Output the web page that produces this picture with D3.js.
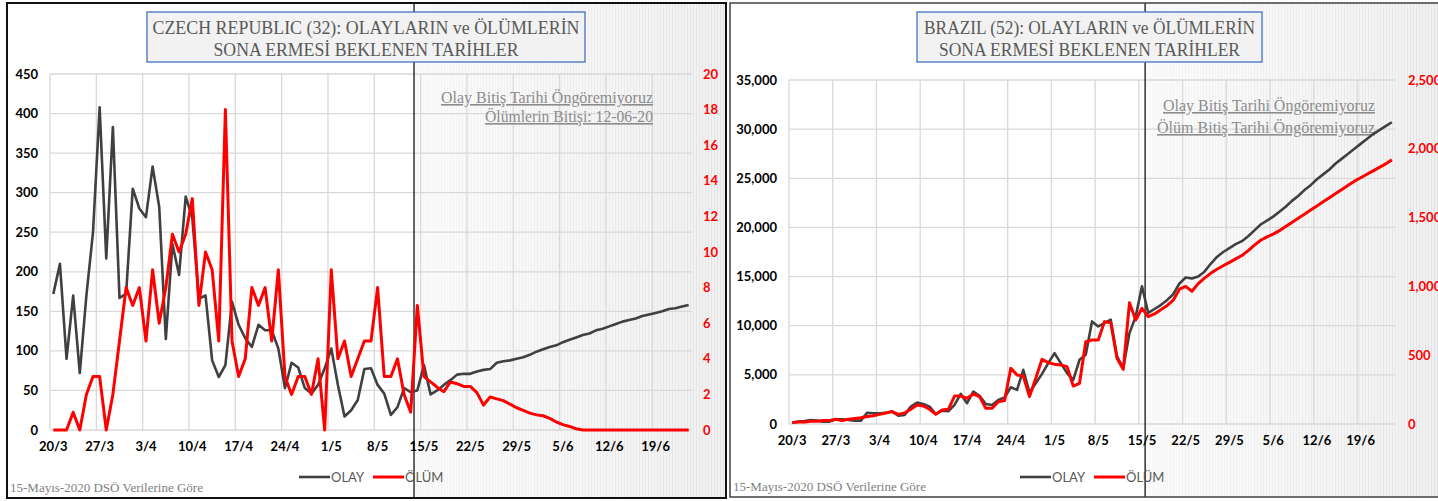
<!DOCTYPE html>
<html>
<head>
<meta charset="utf-8">
<script src="https://cdn.jsdelivr.net/npm/d3@7"></script>
<style>
  body { margin: 0; background: #fff; }
  svg { display: block; }
</style>
</head>
<body>
<svg id="chart" width="1438" height="501"></svg>
<script>
// categories: one per day, 20/3 .. 24/6
const days = d3.timeDay.range(new Date(2020, 2, 20), new Date(2020, 5, 25));
const tickLabels = ["20/3","27/3","3/4","10/4","17/4","24/4","1/5","8/5","15/5","22/5","29/5","5/6","12/6","19/6"];

// Czech Republic
const czOlay = [172,210,90,170,72,170,250,408,217,383,167,172,305,280,269,333,282,115,235,196,
  295,268,166,170,88,67,82,162,133,116,105,133,126,126,103,53,85,79,53,46,
  57,78,103,57,17,25,38,77,78,57,46,19,29,53,48,50,82,45,50,57,
  63,70,71,71,74,76,77,85,87,88,90,92,95,99,102,105,107,111,114,117,
  120,122,126,128,131,134,137,139,141,144,146,148,150,153,154,156,158];
const czOlum = [0,0,0,1,0,2,3,3,0,2,5,8,7,8,5,9,6,8,11,10,
  11,13,7,10,9,5,18,5,3,4,8,7,8,5,9,3,2,3,3,2,
  4,0,9,4,5,3,4,5,5,8,3,3,4,2,1,7,3.0,2.7,2.4,2.15,
  2.7,2.6,2.45,2.45,2.1,1.4,1.85,1.75,1.65,1.45,1.25,1.1,0.95,0.85,0.8,0.65,0.45,0.3,0.2,0.07,
  0,0,0,0,0,0,0,0,0,0,0,0,0,0,0,0,0];
const czLeftTicks = [0,50,100,150,200,250,300,350,400,450];
const czRightTicks = [0,2,4,6,8,10,12,14,16,18,20];

// Brazil
const brOlay = [150,240,300,400,340,240,240,480,480,400,340,340,1150,1090,1090,1150,1260,850,920,1770,
  2180,2040,1770,1020,1360,1290,1940,3060,2110,3300,2860,2040,1940,2450,2690,3740,3470,5510,3200,4150,
  5100,6190,7210,6190,5170,4490,6530,7040,10440,9930,10270,10610,6870,5680,9250,10950,14010,11300,11700,12100,
  12600,13200,14300,14900,14800,15000,15500,16300,17000,17500,17900,18300,18600,19100,19700,20300,20700,21100,21600,22100,
  22700,23200,23800,24300,24900,25400,25900,26500,27000,27500,28000,28500,29000,29500,29900,30300,30700];
const brOlum = [10,15,15,20,20,25,25,35,25,35,40,45,55,60,70,80,90,70,80,107,
  138,131,107,70,102,107,203,203,187,218,199,114,114,162,170,405,356,349,199,332,
  470,446,434,429,417,276,296,598,610,610,744,736,477,397,882,756,841,780,800,830,
  860,900,980,1000,965,1020,1060,1095,1125,1150,1175,1200,1225,1260,1300,1335,1360,1380,1405,1435,
  1465,1495,1525,1555,1585,1615,1645,1675,1705,1735,1765,1790,1815,1840,1865,1890,1920];
const brLeftTicks = [0,5000,10000,15000,20000,25000,30000,35000];
const brRightTicks = [0,500,1000,1500,2000,2500];

const footer = "15-Mayıs-2020 DSÖ Verilerine Göre";
const legendNames = ["OLAY", "ÖLÜM"];

const svg = d3.select("#chart");
const defs = svg.append("defs");

// striped grey texture for the forecast zone
const pat = defs.append("pattern").attr("id", "stripes")
  .attr("patternUnits", "userSpaceOnUse").attr("width", 3).attr("height", 10);
pat.append("rect").attr("width", 3).attr("height", 10).attr("fill", "#f1f1f1");
pat.append("rect").attr("width", 1).attr("height", 10).attr("fill", "#e3e3e3");
const fade = defs.append("linearGradient").attr("id", "fade");
fade.append("stop").attr("offset", "0%").attr("stop-color", "#fff").attr("stop-opacity", 0.7);
fade.append("stop").attr("offset", "85%").attr("stop-color", "#fff").attr("stop-opacity", 0.15);
fade.append("stop").attr("offset", "100%").attr("stop-color", "#fff").attr("stop-opacity", 0);

function drawPanel(cfg) {
  const g = svg.append("g");
  const f = cfg.frame, p = cfg.plot;

  const x = d3.scaleBand().domain(days).range([p.l, p.r]).padding(0);
  const cx = d => x(d) + x.bandwidth() / 2;
  const yL = d3.scaleLinear().domain([0, d3.max(cfg.leftTicks)]).range([p.b, p.t]);
  const yR = d3.scaleLinear().domain([0, d3.max(cfg.rightTicks)]).range([p.b, p.t]);

  g.append("rect").attr("x", f.x).attr("y", f.y).attr("width", f.w).attr("height", f.h).attr("fill", "#fff");

  // forecast zone
  const sx = x(days[cfg.split]);
  g.append("rect").attr("x", sx).attr("y", f.y).attr("width", f.x + f.w - sx).attr("height", f.h)
    .attr("fill", "url(#stripes)");
  g.append("rect").attr("x", sx).attr("y", f.y).attr("width", f.x + f.w - sx).attr("height", f.h)
    .attr("fill", "url(#fade)");

  // gridlines
  g.append("g").selectAll("line").data(cfg.leftTicks).join("line")
    .attr("x1", p.l).attr("x2", p.r).attr("y1", d => yL(d)).attr("y2", d => yL(d))
    .attr("stroke", "#d9d9d9").attr("stroke-width", 1.3);
  const weekly = days.filter((d, i) => i % 7 === 0);
  g.append("g").selectAll("line").data(weekly).join("line")
    .attr("x1", d => x(d)).attr("x2", d => x(d)).attr("y1", p.t).attr("y2", p.b)
    .attr("stroke", "#d9d9d9").attr("stroke-width", 1.3);

  // split line
  g.append("line").attr("x1", sx).attr("x2", sx).attr("y1", f.y).attr("y2", f.y + f.h)
    .attr("stroke", "#000").attr("stroke-width", 1.2);

  // title box
  const tb = cfg.titleBox;
  g.append("rect").attr("x", tb.x).attr("y", tb.y).attr("width", tb.w).attr("height", tb.h)
    .attr("fill", "#f2f2f2").attr("stroke", "#4472c4").attr("stroke-width", 1.3);
  cfg.title.forEach((t, i) => {
    g.append("text").attr("x", tb.x + tb.w / 2).attr("y", tb.y + 22 + i * 22)
      .attr("text-anchor", "middle").attr("font-family", "'Liberation Serif', 'DejaVu Serif', serif")
      .attr("font-size", 18).attr("fill", "#595959")
      .attr("textLength", cfg.titleLen[i]).attr("lengthAdjust", "spacingAndGlyphs")
      .text(t);
  });

  // notes in the forecast zone
  cfg.notes.forEach((t, i) => {
    g.append("text").attr("x", cfg.noteX).attr("y", cfg.noteY + i * cfg.noteGap)
      .attr("text-anchor", "end").attr("font-family", "'Liberation Serif', serif")
      .attr("font-size", 16).attr("fill", "#8c8c8c").attr("text-decoration", "underline")
      .attr("textLength", cfg.noteLen[i]).attr("lengthAdjust", "spacingAndGlyphs")
      .text(t);
  });

  // series
  const lineL = d3.line().x((v, i) => cx(days[i])).y(v => yL(v));
  const lineR = d3.line().x((v, i) => cx(days[i])).y(v => yR(v));
  g.append("path").datum(cfg.olay).attr("d", lineL).attr("fill", "none")
    .attr("stroke", "#404040").attr("stroke-width", 2.6).attr("stroke-linejoin", "round");
  g.append("path").datum(cfg.olum).attr("d", lineR).attr("fill", "none")
    .attr("stroke", "#ff0000").attr("stroke-width", 3).attr("stroke-linejoin", "round");

  // axes labels
  const lab = "Lato, 'Open Sans', sans-serif";
  g.append("g").selectAll("text").data(cfg.leftTicks).join("text")
    .attr("x", cfg.leftLabelX).attr("y", d => yL(d) + 4.5).attr("text-anchor", "end")
    .attr("font-family", lab).attr("font-weight", "bold").attr("font-size", 13).attr("fill", "#000")
    .text(cfg.fmt);
  g.append("g").selectAll("text").data(cfg.rightTicks).join("text")
    .attr("x", cfg.rightLabelX).attr("y", d => yR(d) + 4.5).attr("text-anchor", "start")
    .attr("font-family", lab).attr("font-weight", "bold").attr("font-size", 13).attr("fill", "#ff0000")
    .text(cfg.fmt);
  g.append("g").selectAll("text").data(tickLabels).join("text")
    .attr("x", (t, i) => cx(days[i * 7])).attr("y", p.b + 21).attr("text-anchor", "middle")
    .attr("font-family", lab).attr("font-weight", "bold").attr("font-size", 13).attr("fill", "#000")
    .text(t => t);

  // legend
  const lg = cfg.legend;
  [["#404040", 2.6], ["#ff0000", 3]].forEach((s, i) => {
    const lx = lg.x + i * lg.step;
    g.append("line").attr("x1", lx).attr("x2", lx + 31).attr("y1", lg.y).attr("y2", lg.y)
      .attr("stroke", s[0]).attr("stroke-width", s[1]);
    g.append("text").attr("x", lx + 32).attr("y", lg.y + 5)
      .attr("font-family", lab).attr("font-size", 13).attr("fill", "#595959")
      .text(legendNames[i]);
  });

  // footer
  g.append("text").attr("x", f.x + 3).attr("y", f.y + f.h - 6)
    .attr("font-family", "'Liberation Serif', serif").attr("font-size", 13).attr("fill", "#808080")
    .text(footer);

  // frame
  g.append("rect").attr("x", f.x).attr("y", f.y).attr("width", f.w).attr("height", f.h)
    .attr("fill", "none").attr("stroke", cfg.frameColor).attr("stroke-width", cfg.frameWidth);
}

drawPanel({
  olay: czOlay, olum: czOlum, split: 55,
  leftTicks: czLeftTicks, rightTicks: czRightTicks, fmt: d3.format("d"),
  frame: { x: 7, y: 3, w: 719, h: 495 }, frameColor: "#111", frameWidth: 2,
  plot: { l: 50, r: 692, t: 74, b: 430 },
  leftLabelX: 38, rightLabelX: 703,
  titleBox: { x: 147, y: 12, w: 438, h: 50 },
  title: ["CZECH REPUBLIC (32): OLAYLARIN  ve ÖLÜMLERİN", "SONA ERMESİ BEKLENEN  TARİHLER"],
  titleLen: [427, 305],
  notes: ["Olay Bitiş Tarihi Öngöremiyoruz", "Ölümlerin Bitişi: 12-06-20"],
  noteX: 653, noteY: 103, noteGap: 19, noteLen: [212, 168],
  legend: { x: 299, y: 477, step: 74 }
});

drawPanel({
  olay: brOlay, olum: brOlum, split: 57,
  leftTicks: brLeftTicks, rightTicks: brRightTicks, fmt: d3.format(","),
  frame: { x: 730, y: 3, w: 712, h: 494 }, frameColor: "#404040", frameWidth: 1.5,
  plot: { l: 789, r: 1395, t: 80, b: 424 },
  leftLabelX: 777, rightLabelX: 1408,
  titleBox: { x: 917, y: 12, w: 345, h: 50 },
  title: ["BRAZIL (52): OLAYLARIN  ve ÖLÜMLERİN", "SONA ERMESİ BEKLENEN  TARİHLER"],
  titleLen: [331, 301],
  notes: ["Olay Bitiş Tarihi Öngöremiyoruz", "Ölüm Bitiş Tarihi Öngöremiyoruz"],
  noteX: 1375, noteY: 111, noteGap: 22, noteLen: [212, 218],
  legend: { x: 1020, y: 477, step: 74 }
});
</script>
</body>
</html>
